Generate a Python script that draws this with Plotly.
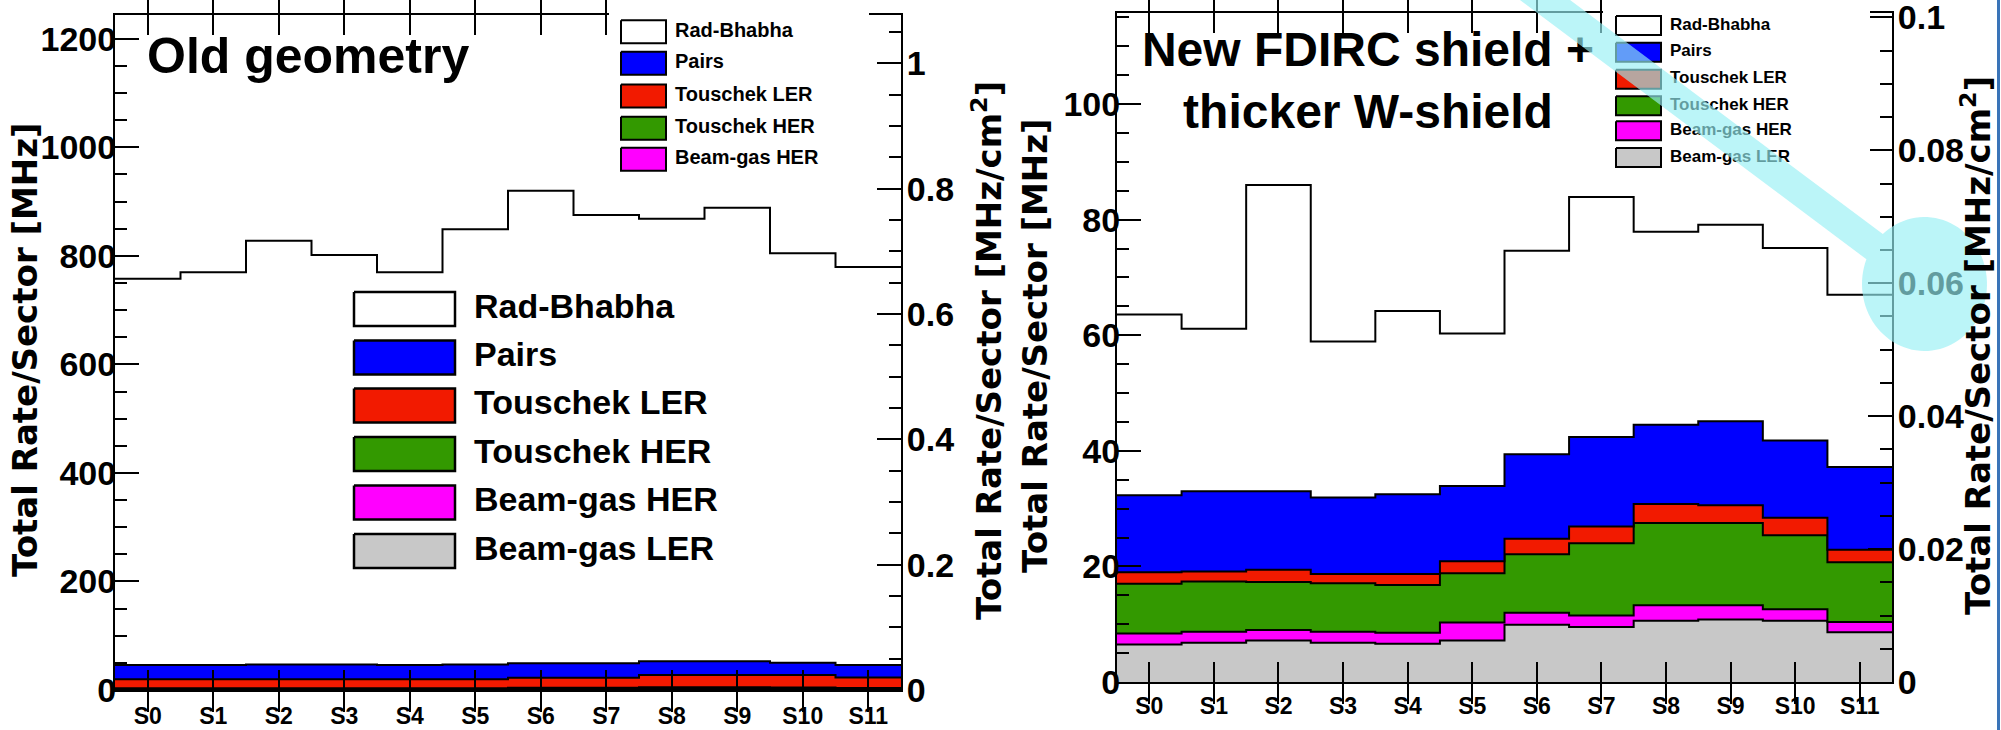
import math
import plotly.graph_objects as go

W, H = 2001, 730

# ---------------------------------------------------------------- data
sector_labels = ["S0", "S1", "S2", "S3", "S4", "S5",
                 "S6", "S7", "S8", "S9", "S10", "S11"]

# stacking order: bottom -> top
source_names = ["Beam-gas LER", "Beam-gas HER", "Touschek HER",
                "Touschek LER", "Pairs", "Rad-Bhabha"]
source_colors = ["#c8c8c8", "#ff00ff", "#339900", "#f21a00", "#0000ff", "#ffffff"]

# Old geometry: rate per sector for each background source [MHz]
old_beamgas_ler = [1.2, 1.2, 1.3, 1.2, 1.2, 1.3, 1.7, 1.6, 1.8, 1.8, 1.8, 1.5]
old_beamgas_her = [0.4, 0.4, 0.4, 0.4, 0.4, 0.5, 0.5, 0.5, 0.6, 0.6, 0.5, 0.4]
old_touschek_her = [1.5, 1.5, 1.5, 1.5, 1.5, 1.6, 2.0, 2.2, 2.5, 2.5, 2.3, 1.9]
old_touschek_ler = [16.6, 16.6, 16.5, 16.6, 16.6, 16.3, 18.5, 18.4, 22.7, 22.7, 23.0, 19.2]
old_pairs = [26.3, 26.3, 27.3, 27.3, 26.3, 27.3, 26.8, 26.8, 25.4, 25.4, 22.4, 23.0]
old_rad_bhabha = [711.7, 723.5, 780.8, 754.4, 723.5, 802.0, 870.4, 825.5, 815.3, 835.5, 754.5, 733.3]

# New FDIRC shield + thicker W-shield [MHz]
new_beamgas_ler = [6.5, 6.8, 7.2, 6.8, 6.6, 7.2, 9.9, 9.5, 10.6, 10.8, 10.6, 8.6]
new_beamgas_her = [1.9, 1.9, 1.8, 1.9, 1.9, 3.1, 2.1, 2.0, 2.7, 2.5, 2.0, 1.8]
new_touschek_her = [8.6, 8.7, 8.3, 8.4, 8.3, 8.5, 10.1, 12.5, 14.2, 14.2, 12.8, 10.3]
new_touschek_ler = [2.0, 1.7, 2.1, 1.6, 1.9, 2.1, 2.7, 2.9, 3.3, 3.1, 3.0, 2.2]
new_pairs = [13.3, 13.9, 13.6, 13.2, 13.8, 13.0, 14.6, 15.5, 13.7, 14.5, 13.4, 14.3]
new_rad_bhabha = [31.3, 28.1, 53.0, 27.0, 31.7, 26.4, 35.2, 41.5, 33.4, 34.0, 33.3, 29.8]

old_series = [old_beamgas_ler, old_beamgas_her, old_touschek_her,
              old_touschek_ler, old_pairs, old_rad_bhabha]
new_series = [new_beamgas_ler, new_beamgas_her, new_touschek_her,
              new_touschek_ler, new_pairs, new_rad_bhabha]

# legend contents (top -> bottom)
legend_full = ["Rad-Bhabha", "Pairs", "Touschek LER", "Touschek HER",
               "Beam-gas HER", "Beam-gas LER"]
legend_short = legend_full[:5]

# axis ranges (left: MHz, right: MHz/cm^2)
old_rate_max, old_flux_max = 1243.7, 1.0771
new_rate_max, new_flux_max = 115.8, 0.1007

FONT = "Liberation Sans"
TITLE_FONT = "DejaVu Sans"
color_of = dict(zip(source_names, source_colors))

fig = go.Figure()
edges = list(range(len(sector_labels) + 1))


def add_stack(series, xa, ya, group):
    for name, vals in zip(source_names, series):
        fig.add_trace(go.Scatter(
            x=edges, y=list(vals) + [vals[-1]], xaxis=xa, yaxis=ya,
            stackgroup=group, mode="lines",
            line=dict(shape="hv", color="black", width=2),
            fillcolor=color_of[name],
            fill="none" if name == "Rad-Bhabha" else None,
            hoverinfo="skip", showlegend=False))


add_stack(old_series, "x", "y", "old")
add_stack(new_series, "x2", "y3", "new")

# the secondary (flux) axes carry no trace of their own
for ya in ("y2", "y4"):
    fig.add_trace(go.Scatter(x=[None], y=[None], xaxis="x" if ya == "y2" else "x2",
                             yaxis=ya, mode="lines", hoverinfo="skip", showlegend=False))

# ---------------------------------------------------------------- panel titles
# left panel occupies pixels x 115..901, y 15..690; right panel x 1117..1892, y 12.7..682
def old_xy(px, py):
    return (px - 115) / 786 * 12, (690 - py) / 675 * old_rate_max


def new_xy(px, py):
    return (px - 1117) / 775 * 12, (682 - py) / 669.3 * new_rate_max


tx, ty = old_xy(147, 60)
fig.add_trace(go.Scatter(
    x=[tx], y=[ty], xaxis="x", yaxis="y", mode="text", text=["Old geometry"],
    textposition="middle right", cliponaxis=False, hoverinfo="skip", showlegend=False,
    textfont=dict(family=FONT, size=50, color="black", weight="bold")))

tx, ty = new_xy(1368, 85)
fig.add_trace(go.Scatter(
    x=[tx], y=[ty], xaxis="x2", yaxis="y3", mode="text",
    text=["New FDIRC shield +<br>thicker W-shield"],
    textposition="middle center", cliponaxis=False, hoverinfo="skip", showlegend=False,
    textfont=dict(family=FONT, size=48, color="black", weight="bold")))

# ---------------------------------------------------------------- legends
layout_axes = {}


def legend_box(xa, ya, box, names, sw_x, centers, sw_h, text_x, fsize, lw, bg=True):
    x0, y0, x1, y1 = box
    xkey = "xaxis" + xa[1:]
    ykey = "yaxis" + ya[1:]
    layout_axes[xkey] = dict(domain=[x0 / W, x1 / W], range=[x0, x1], visible=False,
                             anchor=ya, fixedrange=True, automargin=False)
    layout_axes[ykey] = dict(domain=[1 - y1 / H, 1 - y0 / H], range=[y1, y0],
                             visible=False, anchor=xa, fixedrange=True, automargin=False)
    if bg:
        fig.add_trace(go.Scatter(
            x=[x0, x1, x1, x0, x0], y=[y0, y0, y1, y1, y0], xaxis=xa, yaxis=ya,
            mode="lines", fill="toself", fillcolor="white", line=dict(width=0),
            hoverinfo="skip", showlegend=False))
    for name, cy in zip(names, centers):
        a, b = sw_x
        fig.add_trace(go.Scatter(
            x=[a, b, b, a, a],
            y=[cy - sw_h / 2, cy - sw_h / 2, cy + sw_h / 2, cy + sw_h / 2, cy - sw_h / 2],
            xaxis=xa, yaxis=ya, mode="lines", fill="toself", fillcolor=color_of[name],
            line=dict(color="black", width=lw), hoverinfo="skip", showlegend=False))
    fig.add_trace(go.Scatter(
        x=[text_x] * len(names), y=centers, text=names, xaxis=xa, yaxis=ya,
        mode="text", textposition="middle right", cliponaxis=False,
        textfont=dict(family=FONT, size=fsize, color="black", weight="bold"),
        hoverinfo="skip", showlegend=False))


# large legend inside the left panel
legend_box("x3", "y5", (345, 280, 760, 580), legend_full, (354, 455),
           [309, 357.5, 405.5, 454, 502.5, 551], 34, 474, 34, 2.5, bg=False)
# small legend at the top right of the left panel
legend_box("x4", "y6", (609, 0, 869, 180), legend_short, (621, 666),
           [31.7, 63.3, 96, 128.3, 159.3], 23, 675, 20, 2)
# legend of the right panel
legend_box("x5", "y7", (1603, 0, 1870, 174), legend_full, (1616, 1661),
           [25.5, 52.2, 79.2, 105.8, 130.8, 157.5], 19, 1670, 17, 2)

# ---------------------------------------------------------------- axes
tick_font_y = dict(family=FONT, size=34, color="black", weight="bold")
tick_font_x = dict(family=FONT, size=23, color="black", weight="bold")


def x_axis(px0, px1, anchor, standoff):
    return dict(domain=[px0 / W, px1 / W], range=[0, 12], anchor=anchor,
                tickvals=[i + 0.5 for i in range(12)], ticktext=sector_labels,
                ticks="inside", ticklen=20, tickwidth=1.5, tickcolor="black",
                showline=True, linewidth=2, linecolor="black", mirror="allticks",
                showgrid=False, zeroline=False, tickfont=tick_font_x,
                ticklabelstandoff=standoff, ticklabeloverflow="allow",
                automargin=False, fixedrange=True)


def y_axis(rng, dtick, minor, anchor, side="left", overlaying=None, domain=None,
           standoff=0):
    d = dict(range=[0, rng], dtick=dtick, tick0=0, anchor=anchor, side=side,
             ticks="inside", ticklen=24, tickwidth=1.5, tickcolor="black",
             minor=dict(dtick=minor, tick0=0, ticks="inside", ticklen=12,
                        tickwidth=1.5, tickcolor="black", showgrid=False),
             showline=True, linewidth=2, linecolor="black",
             showgrid=False, zeroline=False, tickfont=tick_font_y,
             ticklabelstandoff=standoff, ticklabeloverflow="allow",
             automargin=False, fixedrange=True)
    if overlaying:
        d["overlaying"] = overlaying
    else:
        d["domain"] = domain
        d["mirror"] = True
    return d


layout_axes["xaxis"] = x_axis(115, 901, "y", 4)
layout_axes["yaxis"] = y_axis(old_rate_max, 200, 50, "x",
                              domain=[1 - 690 / H, 1 - 15 / H], standoff=-10)
layout_axes["yaxis2"] = y_axis(old_flux_max, 0.2, 0.05, "x", side="right",
                               overlaying="y", standoff=-3)
layout_axes["xaxis2"] = x_axis(1117, 1892, "y3", 2)
layout_axes["yaxis3"] = y_axis(new_rate_max, 20, 5, "x2",
                               domain=[1 - 682 / H, 1 - 12.7 / H], standoff=-12)
layout_axes["yaxis4"] = y_axis(new_flux_max, 0.02, 0.005, "x2", side="right",
                               overlaying="y3", standoff=-3)

# ---------------------------------------------------------------- axis titles
rate_title = "Total Rate/Sector [MHz]"
flux_title = "Total Rate/Sector [MHz/cm<sup>2</sup>]"
title_font = dict(family=TITLE_FONT, size=34, color="black", weight="bold")
annotations = []
for text, px, py in [(rate_title, 25, 350), (flux_title, 987, 351),
                     (rate_title, 1035, 346), (flux_title, 1976, 346)]:
    annotations.append(dict(text=text, x=px / W, y=1 - py / H, xref="paper", yref="paper",
                            textangle=-90, showarrow=False, xanchor="center",
                            yanchor="middle", font=title_font))

# ---------------------------------------------------------------- highlight marker
def to_paper(px, py):
    return px / W, 1 - py / H


def highlight_path():
    """Outline of a straight band running into an ellipse, as one closed polygon."""
    cx, cy, rx, ry = 1924.5, 284.0, 62.5, 67.0
    through = (1545.0, 0.0)                   # band centre line passes here
    dx, dy = cx - through[0], cy - through[1]
    L = math.hypot(dx, dy)
    ux, uy = dx / L, dy / L
    nx, ny = -uy, ux
    hw = 15.0
    p0 = (through[0] - 60 * ux, through[1] - 60 * uy)

    def hit(sign):
        ox, oy = p0[0] + sign * nx * hw, p0[1] + sign * ny * hw
        # solve ((ox + s*ux - cx)/rx)^2 + ((oy + s*uy - cy)/ry)^2 = 1
        a = (ux / rx) ** 2 + (uy / ry) ** 2
        b = 2 * ((ox - cx) * ux / rx ** 2 + (oy - cy) * uy / ry ** 2)
        c = ((ox - cx) / rx) ** 2 + ((oy - cy) / ry) ** 2 - 1
        s = (-b - math.sqrt(b * b - 4 * a * c)) / (2 * a)
        px, py = ox + s * ux, oy + s * uy
        return (ox, oy), math.atan2((py - cy) / ry, (px - cx) / rx)

    start_a, ta = hit(-1)
    start_b, tb = hit(+1)
    te = math.atan2(-uy, -ux)
    two_pi = 2 * math.pi
    delta = (tb - ta) % two_pi
    if (te - ta) % two_pi < delta:
        sweep = -(two_pi - delta)
    else:
        sweep = delta
    n = 90
    arc = [(cx + rx * math.cos(ta + sweep * i / n), cy + ry * math.sin(ta + sweep * i / n))
           for i in range(n + 1)]
    pts = [start_a] + arc + [start_b]

    def fmt(p):
        x, y = to_paper(*p)
        return f"{x:.5f},{y:.5f}"

    return "M" + fmt(pts[0]) + "".join(" L" + fmt(p) for p in pts[1:]) + " Z"


shapes = [
    dict(type="path", xref="paper", yref="paper", path=highlight_path(),
         fillcolor="rgba(150,240,245,0.65)", line=dict(width=0), layer="above"),
    dict(type="line", xref="paper", yref="paper", x0=1998.5 / W, x1=1998.5 / W,
         y0=0, y1=1, line=dict(color="#3a74b8", width=3), layer="above"),
]

fig.update_layout(
    width=W, height=H, margin=dict(l=0, r=0, t=0, b=0, autoexpand=False),
    paper_bgcolor="white", plot_bgcolor="white",
    showlegend=False, hovermode=False,
    annotations=annotations, shapes=shapes,
    **layout_axes)

fig.write_html("out.html", config={"displayModeBar": False})
